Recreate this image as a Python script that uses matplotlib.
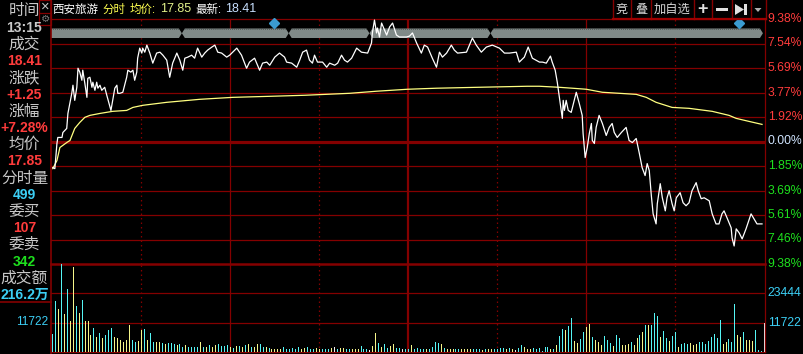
import numpy as np
import matplotlib.pyplot as plt
from matplotlib.lines import Line2D
from matplotlib.patches import Polygon, Rectangle
from matplotlib.transforms import blended_transform_factory

W, H = 804, 354
plt.rcParams['font.family'] = ['Liberation Sans', 'Noto Sans CJK SC', 'DejaVu Sans']

# ---- data ----
stock_name = '西安旅游'
avg_price = '17.85'
last_price = '18.41'
pct_max = 9.38
up_labels = ['1.92%', '3.77%', '5.69%', '7.54%', '9.38%']
down_labels = ['1.85%', '3.69%', '5.61%', '7.46%', '9.38%']
vol_ticks = [11722, 23444]
vol_max = 35166

left_labels = ['时间', '成交', '涨跌', '涨幅', '均价', '分时量', '委买', '委卖', '成交额']
left_values = ['13:15', '18.41', '+1.25', '+7.28%', '17.85', '499', '107', '342', '216.2万']

# minute index (0..240) and change in % vs previous close
price_t = [0.3, 1.0, 1.7, 2.0, 3.4, 3.7, 5.0, 5.4, 6.7, 7.1, 7.7, 8.4, 8.8, 9.4, 10.1, 10.4,
           11.1, 11.8, 12.1, 12.8, 13.5, 13.8, 14.5, 15.1, 15.5, 16.2, 16.8, 17.8, 18.5, 19.9,
           20.5, 21.2, 21.9, 22.2, 22.9, 23.9, 25.2, 25.6, 26.6, 27.3, 27.9, 28.6, 28.9, 29.6,
           30.3, 30.6, 31.3, 32.0, 33.0, 34.0, 35.3, 36.4, 37.4, 38.7, 39.7, 40.7, 42.1, 43.1,
           44.1, 44.8, 45.8, 47.1, 48.1, 49.1, 50.5, 51.5, 52.5, 53.9, 54.9, 55.9, 57.2, 58.9,
           59.9, 60.9, 62.3, 63.9, 65.6, 66.6, 68.3, 70.0, 71.0, 72.4, 73.4,
           75.1, 76.7, 78.4, 79.1, 80.8, 82.5, 83.5, 84.5, 85.8, 86.8, 87.8, 88.5, 89.5, 91.2,
           92.6, 93.6, 95.3, 96.3, 97.6, 98.6, 99.6, 101.0, 102.7, 104.3, 106.4, 107.7, 108.0,
           108.7, 109.4, 109.7, 110.4, 111.1, 112.1, 112.8, 113.8, 114.8, 116.1, 117.1, 119.5,
           120.5, 121.5, 122.9, 124.5, 125.5, 126.6, 128.2, 129.6, 130.6, 131.6, 133.0, 134.6,
           135.6, 136.7, 139.7, 141.7, 143.0, 144.7, 146.4, 148.4, 150.8, 152.5, 154.2, 156.5,
           157.5, 159.2, 160.5, 161.9, 164.3,
           165.3, 166.6, 168.0, 168.6, 169.6, 170.3, 171.0, 172.0, 172.3, 172.7, 173.3, 174.0,
           175.0, 176.0, 176.7, 177.7, 178.7, 179.0, 179.7, 180.4, 181.1, 181.8, 182.1, 182.8,
           183.4, 184.4, 185.5, 186.8, 187.8, 188.8, 189.5, 190.5, 191.9, 193.5, 194.5, 195.6,
           196.9, 197.9, 198.9, 199.9, 200.6, 201.3, 202.0, 202.6, 203.6, 204.0, 205.0, 205.7,
           206.7, 207.3, 208.0, 209.0, 209.7, 210.4, 211.7, 212.7, 213.7, 214.7, 215.7, 217.1,
           217.8, 218.8, 219.8, 221.5, 222.5, 223.8, 224.8, 225.8, 226.5, 227.5, 228.9, 229.2,
           229.9, 230.6, 231.6, 232.6, 233.9, 235.6, 236.6, 237.6, 239.3]
price_pct = [-2.00, -2.08, -0.15, 0.31, 0.31, 0.69, 1.00, 2.15, 3.69, 4.31, 3.15, 4.15, 5.61, 5.31, 4.69, 5.46,
             4.46, 3.38, 4.84, 4.92, 4.15, 4.54, 3.92, 4.54, 4.08, 4.31, 3.92, 4.15, 3.54, 2.38,
             3.15, 4.08, 4.31, 3.69, 3.69, 3.77, 4.92, 5.46, 5.31, 5.46, 4.69, 5.31, 6.38, 7.15,
             6.77, 7.15, 6.84, 7.38, 6.77, 6.00, 6.77, 6.84, 6.61, 6.23, 4.92, 6.00, 6.77, 6.23,
             5.46, 6.38, 6.46, 6.61, 6.38, 7.15, 6.46, 6.77, 7.00, 7.23, 7.38, 6.84, 6.77, 6.46,
             6.61, 6.84, 7.15, 6.61, 5.61, 6.08, 6.38, 5.46, 6.00, 6.08, 5.84,
             6.46, 6.77, 6.46, 6.08, 6.00, 5.69, 6.23, 6.84, 7.00, 6.23, 6.00, 6.61, 6.08, 6.08,
             5.69, 6.00, 5.84, 6.00, 6.61, 6.23, 6.08, 6.38, 7.15, 6.84, 6.77, 7.54, 8.31,
             9.30, 8.31, 8.69, 8.00, 9.07, 8.54, 8.15, 8.77, 9.07, 8.15, 8.00, 8.00,
             8.07, 8.31, 7.54, 6.77, 7.38, 7.23, 6.38, 5.69, 6.84, 6.46, 6.77, 7.38,
             7.00, 6.77, 6.84, 7.92, 7.38, 6.84, 7.23, 7.38, 7.15, 6.77, 6.77, 6.84,
             6.08, 6.46, 7.23, 6.38, 6.08,
             6.08, 6.00, 6.54, 6.08, 5.46, 4.54, 3.38, 1.77, 3.15, 2.38, 3.15, 2.38,
             2.23, 3.15, 3.77, 2.92, 2.00, 0.62, -1.23, -0.46, 0.62, 1.38, 0.08, -0.15,
             1.08, 2.00, 1.38, 0.46, 1.08, 1.38, 0.69, 0.31, 0.69, 1.08, 0.08, -0.08,
             0.23, -0.85, -2.00, -2.61, -1.69, -2.23, -4.15, -5.54, -6.31, -4.77, -3.23, -4.31,
             -5.31, -4.31, -3.77, -4.77, -5.31, -4.31, -3.92, -4.69, -4.92, -4.69, -3.77, -3.15,
             -3.77, -4.38, -4.31, -4.54, -5.54, -6.31, -6.31, -5.54, -5.31, -5.84, -6.61, -7.38,
             -8.00, -6.69, -7.00, -7.46, -6.69, -5.54, -5.92, -6.31, -6.31]

avg_t = [0.3, 1.7, 2.7, 5.0, 6.1, 7.7, 9.4, 11.1, 12.8, 16.2, 20.5, 25.2, 27.3, 30.6, 38.7,
         49.8, 60.9, 73.4, 85.2, 100.3, 109.4, 119.8, 129.6, 143.4, 160.2, 164.3, 171.0,
         175.4, 180.1, 185.5, 191.2, 196.9, 200.3, 203.6, 209.0, 214.7, 222.5, 228.2, 230.6,
         234.9, 239.3]
avg_pct = [-2.08, -1.46, -0.46, -0.08, 0.08, 1.00, 1.46, 1.85, 2.00, 2.15, 2.31, 2.38, 2.61, 2.77, 3.00,
           3.23, 3.38, 3.46, 3.54, 3.69, 3.85, 4.00, 4.08, 4.15, 4.23, 4.23, 4.15,
           4.08, 4.00, 3.77, 3.69, 3.61, 3.38, 3.00, 2.61, 2.54, 2.31, 2.00, 1.77,
           1.54, 1.31]

# volume per minute (0..240), u = up tick, d = down tick, e = flat
volume = [7000, 20200, 17000, 35000, 15300, 25100, 12200, 33800, 18200, 15400,
          20600, 12200, 12200, 6800, 9400, 6000, 7400, 5600, 6800, 8600,
          9400, 6000, 5600, 4700, 4000, 4700, 10600, 4700, 4000, 4400,
          8600, 9000, 4700, 7400, 4000, 3900, 3900, 3500, 3100, 3500,
          3500, 3100, 2700, 3100, 2100, 2700, 1900, 2100, 1900, 2100,
          4100, 1900, 1900, 2700, 1900, 2700, 3100, 2300, 2300, 2700,
          1900, 1500, 2300, 2300, 1900, 2700, 3100, 2000, 2000, 3100,
          3100, 1900, 1900,
          1600, 1200, 1200, 1000, 1200, 2100, 1300, 1300, 1600, 1300,
          2100, 1000, 1600, 2100, 1300, 1300, 1600, 1000, 1300, 1300,
          1300, 1600, 2100, 1000, 1600, 1600, 1300, 1000, 1300, 1300,
          1300, 2500, 1300, 1300, 900, 2500, 7400, 3700, 2100, 3300,
          1700, 2500, 3300, 1700, 1700, 1200, 1200,
          1200, 2650, 1300, 1600, 1300, 1300, 1300, 1300, 2100, 4100,
          3700, 3100, 1600, 1000, 1000, 1000, 1000, 1000, 1000, 1000,
          1300, 1300, 1300, 1300, 1300, 800, 1300, 1000, 1000, 1300,
          1300, 1600, 1600, 1000, 1600, 1000, 800, 1600, 2650, 2100,
          1000, 1000, 1600, 1300, 1600,
          500, 2000, 2000, 1200, 1200, 2800, 6400, 9200, 8800, 10400,
          13600, 4400, 3600, 5200, 8000, 10000, 11200, 6000, 4800, 4000,
          2800, 6400, 4800, 3600, 2400, 6800, 5600, 2800, 2800, 3200,
          4000, 2800, 5600, 6800, 8000, 10800, 10800, 10800, 15500, 14400,
          6000, 8400, 5600, 4400, 6400, 8000, 2000, 3200, 3600, 3200,
          3600, 2800, 3200, 4000, 4000, 3200, 4400, 6000, 7200, 5600,
          12800, 3200, 4000, 5200, 4000, 19100, 6800, 6000, 8000, 4800,
          4800, 4400, 8800, 800, 400, 11722]
vol_dir = ('uudududdud udddududuu udddddduud duduuddudu uuduuduuuu dududduuuu dududududd uud'
           'udddduuuuu udduuudduu udeudduudd duuueddudu udduueu'
           'uduuuuduuu ududdduudd dduuududdu uuududeuud dduuu'
           'uuududuudu udduuddudd duuuduuddd uddududuuu duuduuduuu ddduuuuuuu udduuuddud dduuue'
           ).replace(' ', '')

band_breaks = [43.8, 79.8, 107.0, 147.8]
marker_t = [74.7, 231.6]

# ---- colours ----
BG = 'black'
GRID = '#840000'
RED = '#FF3C3C'
GREEN = '#1EE01E'
CYAN = '#3CCFF5'
GRAY = '#C8C8C8'
bar_color = {'u': '#55F5F5', 'd': '#F5F58A', 'e': '#F0F0F0'}


def fx(x):
    return x / W


def fy(y):
    return 1 - y / H


fig = plt.figure(figsize=(W / 100, H / 100), dpi=100, facecolor=BG)
L, R = 51, 765
ax = fig.add_axes([fx(L), fy(264), (R - L) / W, (264 - 19) / H])
axv = fig.add_axes([fx(L), fy(352), (R - L) / W, (352 - 264) / H])
for a in (ax, axv):
    a.set_facecolor(BG)
    a.set_xlim(-0.3, 240.3)
    for s in a.spines.values():
        s.set_visible(False)
    a.set_xticks([])
    a.set_yticks([])
ax.set_ylim(-pct_max, pct_max)
axv.set_ylim(0, vol_max)

# horizontal grid
step = pct_max / 5
for k in range(-4, 5):
    ax.axhline(k * step, color=GRID, lw=2.3 if k == 0 else 0.9, zorder=1)
ax.axhline(pct_max, color=GRID, lw=0.9, clip_on=False, zorder=1)
axv.axhline(vol_max, color=GRID, lw=1.8, clip_on=False, zorder=1)
for v in vol_ticks:
    axv.axhline(v, color=GRID, lw=0.9, zorder=1)
axv.axhline(0, color=GRID, lw=0.9, clip_on=False, zorder=1)

# vertical grid
for a in (ax, axv):
    for m in (60, 180):
        a.axvline(m, color=GRID, lw=0.9, zorder=1)
    a.axvline(120, color=GRID, lw=1.6, zorder=1)
    for m in (30, 90, 150, 210):
        a.axvline(m, color=GRID, lw=0.9, ls=(0, (1.2, 2.4)), zorder=1)

# gray timeline band
tb = blended_transform_factory(ax.transData, ax.transAxes)
y0, y1 = 1 - (38 - 19) / 245, 1 - (28.5 - 19) / 245
ym = (y0 + y1) / 2
edges = [-0.3] + band_breaks + [239.6]
for i in range(len(edges) - 1):
    a_, b_ = edges[i], edges[i + 1]
    pts = [(a_, ym), (a_ + 1.0, y1), (b_ - 1.0, y1), (b_, ym), (b_ - 1.0, y0), (a_ + 1.0, y0)]
    if i == 0:
        pts = [(a_, y1), (b_ - 1.0, y1), (b_, ym), (b_ - 1.0, y0), (a_, y0)]
    ax.add_patch(Polygon(pts, closed=True, transform=tb, facecolor='#808A88',
                         edgecolor='none', zorder=2, clip_on=False))
for yy in (y0, y1):
    ax.plot([-0.3, 239], [yy, yy], transform=tb, color='black', lw=0.4,
            ls=(0, (1, 2.5)), zorder=2.5)
ax.plot(marker_t, [1 - 4 / 245] * len(marker_t), transform=tb, ls='none', marker='D',
        ms=5.2, color='#3A9BD0', clip_on=False, zorder=6)

# lines
ax.plot(avg_t, avg_pct, color='#FFFF80', lw=0.9, zorder=4)
ax.plot(price_t, price_pct, color='white', lw=0.9, zorder=5)

# volume bars
minutes = np.arange(len(volume))
axv.vlines(minutes, 0, volume, colors=[bar_color[c] for c in vol_dir], lw=0.55,
           antialiased=False, zorder=3)

# right axis labels
tr = blended_transform_factory(ax.transAxes, ax.transData)
for k, lab in enumerate(up_labels, start=1):
    ax.text(1.004, k * step, lab, transform=tr, color=RED, fontsize=8.7, va='center',
            ha='left', clip_on=False)
ax.text(1.004, 0, '0.00%', transform=tr, color='#D0E4FF', fontsize=8.7, va='center',
        ha='left', clip_on=False)
for k, lab in enumerate(down_labels, start=1):
    ax.text(1.004, -k * step, lab, transform=tr, color=GREEN, fontsize=8.7, va='center',
            ha='left', clip_on=False)
trv = blended_transform_factory(axv.transAxes, axv.transData)
for v in vol_ticks:
    axv.text(1.004, v, str(v), transform=trv, color=CYAN, fontsize=8.8, va='center',
             ha='left', clip_on=False)

# left panel
val_colors = [GRAY, RED, RED, RED, RED, CYAN, RED, GREEN, CYAN]
for i, (lab, val) in enumerate(zip(left_labels, left_values)):
    fig.text(fx(24.5), fy(11 + 33.4 * i), lab, color=GRAY, fontsize=11.3, ha='center', va='center')
    fig.text(fx(24.5), fy(27.8 + 33.4 * i), val, color=val_colors[i], fontsize=10,
             fontweight='bold', ha='center', va='center')
fig.text(fx(48), fy(322), str(vol_ticks[0]), color=CYAN, fontsize=8.6, ha='right', va='center')

fig.add_artist(Line2D([fx(51), fx(51)], [fy(0), fy(354)], color=GRID, lw=1.2))
fig.add_artist(Line2D([fx(0), fx(51)], [fy(302), fy(302)], color=GRID, lw=1.2))
fig.add_artist(Line2D([fx(765), fx(765)], [fy(19), fy(352)], color=GRID, lw=0.9))
fig.add_artist(Rectangle((fx(39.5), fy(25)), 11.5 / W, 25 / H, transform=fig.transFigure,
                         facecolor='none', edgecolor=GRID, lw=0.9))
fig.add_artist(Line2D([fx(39.5), fx(51)], [fy(13), fy(13)], color=GRID, lw=0.9))
fig.text(fx(45.3), fy(6.5), '×', color=GRAY, fontsize=10.5, ha='center', va='center')
fig.text(fx(45.3), fy(19), '⚙', color='#7A7A7A', fontsize=7.5, ha='center', va='center',
         family='DejaVu Sans')

# header
hy = fy(9.5)
fig.text(fx(52), hy, stock_name, color='white', fontsize=8.3, va='center')
fig.text(fx(102), hy, '分时', color='#FFFF50', fontsize=8.3, va='center')
fig.text(fx(130), hy, '均价:', color='#FFFF50', fontsize=8.3, va='center')
fig.text(fx(160), hy, avg_price, color='#E2F28A', fontsize=9, va='center')
fig.text(fx(195), hy, '最新:', color='white', fontsize=8.3, va='center')
fig.text(fx(225), hy, last_price, color='#C8E0FF', fontsize=9, va='center')

# buttons
seps = [613, 631, 651, 694, 712, 732, 751, 766]
for s in seps:
    fig.add_artist(Line2D([fx(s), fx(s)], [fy(0), fy(19)], color=GRID, lw=1.0))
fig.add_artist(Line2D([fx(613), fx(766)], [fy(19), fy(19)], color='#A00000', lw=1.6))
for cx, t in [(622, '竞'), (641, '叠'), (672.5, '加自选')]:
    fig.text(fx(cx), fy(9.5), t, color='#D8D8D8', fontsize=8.8, ha='center', va='center')
fig.text(fx(703), fy(9.5), '+', color='#E0E0E0', fontsize=13, fontweight='bold',
         ha='center', va='center')
fig.add_artist(Rectangle((fx(716), fy(11)), 12 / W, 2.6 / H, transform=fig.transFigure,
                         facecolor='#E0E0E0', edgecolor='none'))
fig.add_artist(Polygon([(fx(735), fy(4)), (fx(735), fy(15)), (fx(744), fy(9.5))],
                       closed=True, transform=fig.transFigure, facecolor='#E0E0E0'))
fig.add_artist(Rectangle((fx(744.5), fy(15)), 2.5 / W, 11 / H, transform=fig.transFigure,
                         facecolor='#E0E0E0', edgecolor='none'))
fig.add_artist(Polygon([(fx(754.5), fy(8)), (fx(761.5), fy(8)), (fx(758), fy(12))],
                       closed=True, transform=fig.transFigure, facecolor='#B0B0B0'))

fig.savefig('out.png', dpi=100, facecolor=BG)
